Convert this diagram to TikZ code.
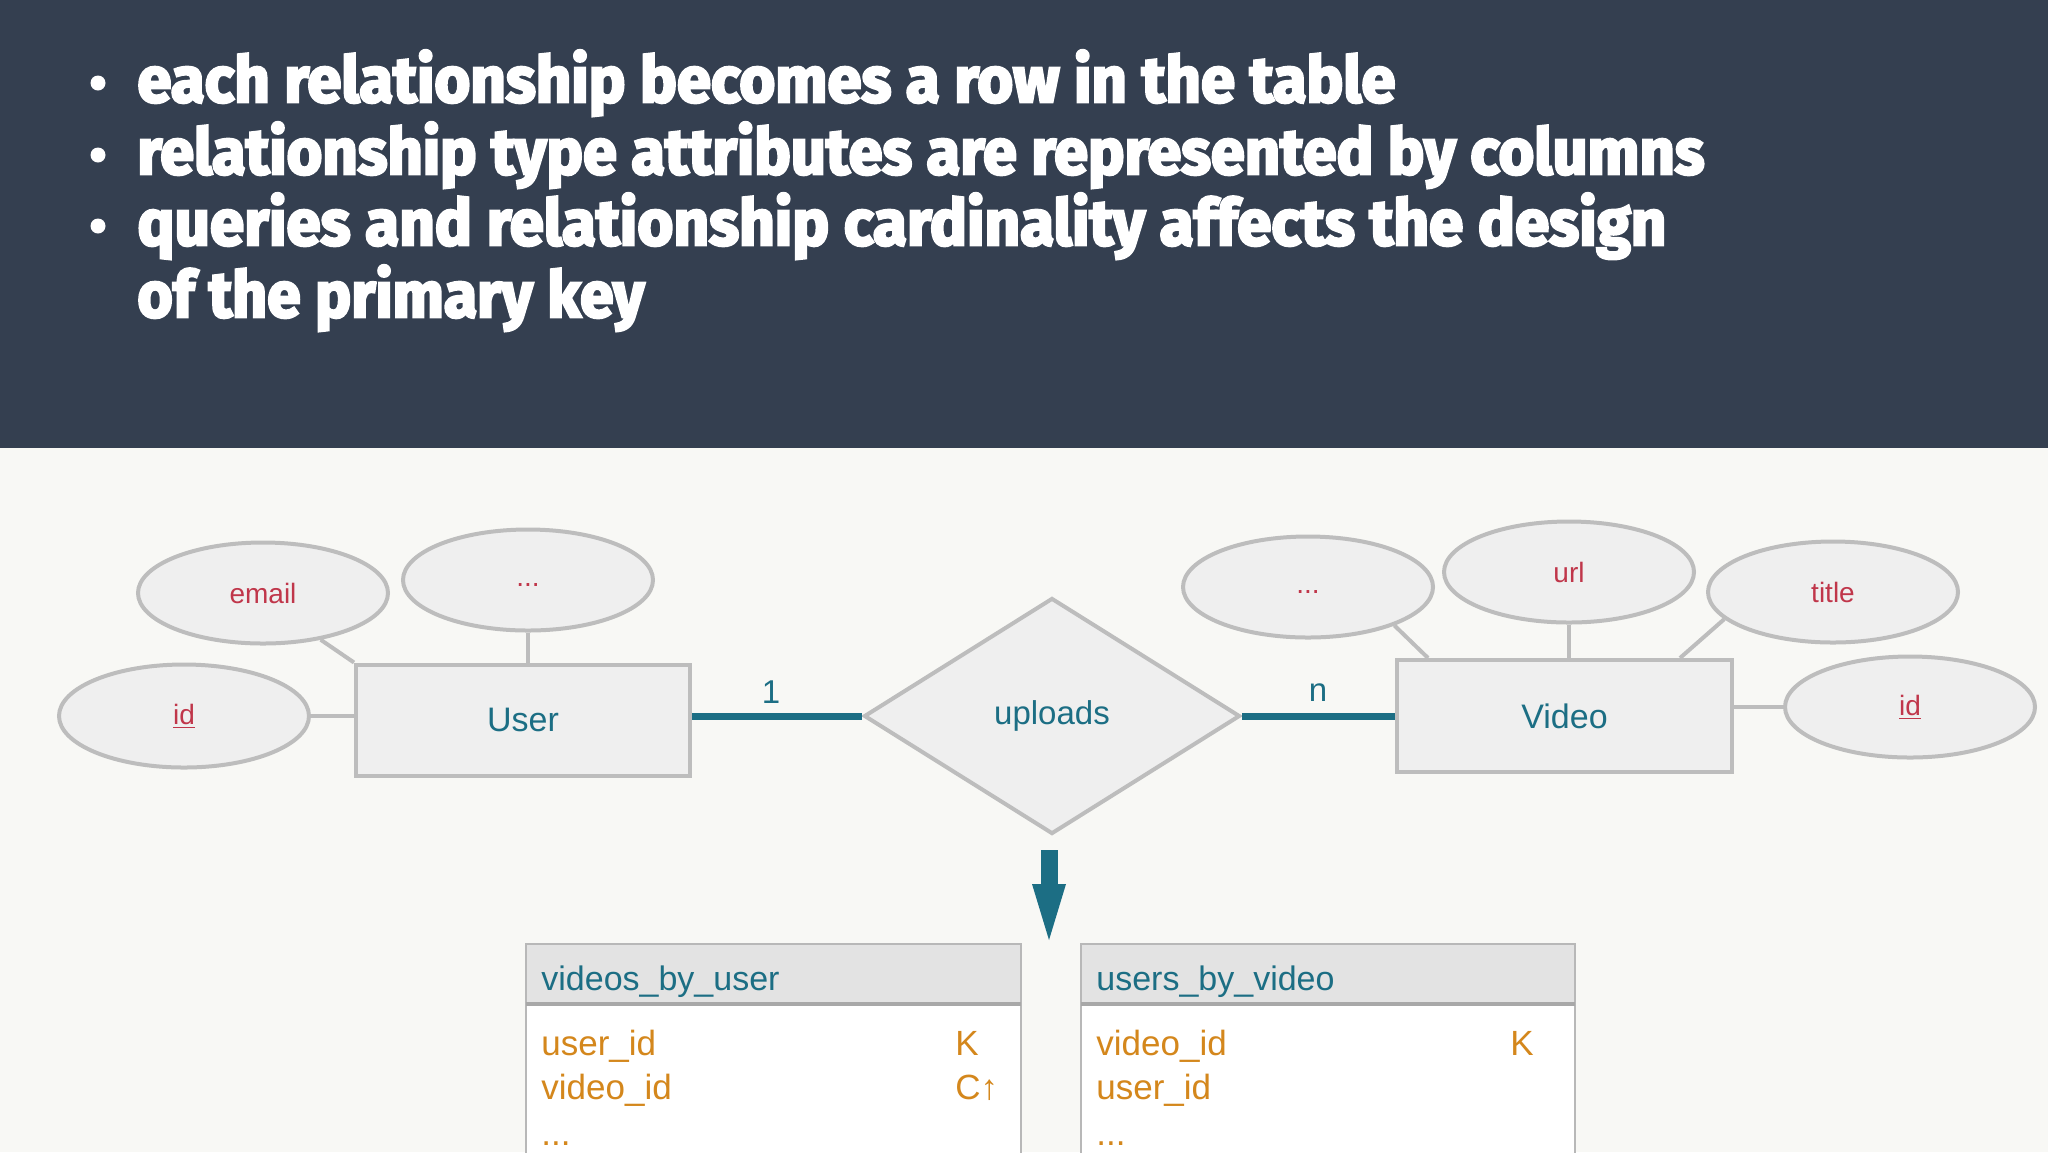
\documentclass[tikz,border=0pt]{standalone}
\usepackage{fontspec}
\setmainfont{Liberation Sans}
\newfontfamily\heavyfont[FakeBold=4]{Fira Sans}
\usetikzlibrary{shapes.geometric,calc}
\definecolor{hdrbg}{HTML}{343F50}
\definecolor{lowbg}{HTML}{F8F8F5}
\definecolor{erteal}{HTML}{1C6E84}
\definecolor{attrred}{HTML}{C0364A}
\definecolor{colorange}{HTML}{D4871C}
\definecolor{shapegray}{HTML}{BDBDBD}
\definecolor{shapefill}{HTML}{EFEFEF}
\definecolor{thfill}{HTML}{E3E3E3}
\definecolor{tborder}{HTML}{B8B8B8}
\definecolor{tsep}{HTML}{A8A8A8}
\newcommand\fitw[2]{\resizebox{#1}{\height}{#2}}
\newcommand\lowdots{\raisebox{-3pt}[0pt][0pt]{...}}
\tikzset{
  bullettext/.style={anchor=base west, inner sep=0pt, text=white, font=\heavyfont\bfseries\fontsize{32pt}{36pt}\selectfont},
  attr/.style={ellipse, draw=shapegray, fill=shapefill, line width=2pt, minimum width=125pt, minimum height=50.5pt, inner sep=0pt, text=attrred, font=\fontsize{14pt}{16pt}\selectfont},
  entity/.style={rectangle, draw=shapegray, fill=shapefill, line width=2pt, minimum width=167pt, minimum height=55.5pt, inner sep=0pt, text=erteal, font=\fontsize{17pt}{19pt}\selectfont},
  relship/.style={diamond, draw=shapegray, fill=shapefill, line width=2pt, minimum width=188pt, minimum height=118pt, aspect=1.59, inner sep=0pt, text=erteal, font=\fontsize{16.5pt}{19pt}\selectfont},
  attrline/.style={draw=shapegray, line width=2pt},
  relline/.style={draw=erteal, line width=3.5pt},
  card/.style={text=erteal, inner sep=0pt, font=\fontsize{16.5pt}{18pt}\selectfont},
  thead/.style={anchor=base west, inner sep=0pt, text=erteal, font=\fontsize{17pt}{19pt}\selectfont},
  trow/.style={anchor=base west, inner sep=0pt, text=colorange, font=\fontsize{17.5pt}{20pt}\selectfont},
  tbox/.style={draw=tborder, line width=1.2pt},
}
\begin{document}
\begin{tikzpicture}[x=0.5pt,y=-0.5pt]
\useasboundingbox (0,0) rectangle (2048,1152);
\clip (0,0) rectangle (2048,1152);
\fill[lowbg] (0,0) rectangle (2048,1152);
\fill[hdrbg] (0,0) rectangle (2048,448);

% bullets
\fill[white] (98,83) circle (7.5);
\fill[white] (98,155) circle (7.5);
\fill[white] (98,226) circle (7.5);
\node[bullettext] (b1) at (137,102) {\fitw{629pt}{each relationship becomes a row in the table}};
\node[bullettext] (b2) at (137,174) {\fitw{783.5pt}{relationship type attributes are represented by columns}};
\node[bullettext] (b3) at (137,245) {\fitw{764.5pt}{queries and relationship cardinality affects the design}};
\node[bullettext] (b4) at (137,317) {\fitw{253.5pt}{of the primary key}};

% ER diagram
\node[entity] (user) at (523,720) {User};
\node[entity, minimum width=167.5pt, minimum height=56pt] (video) at (1564.5,716) {Video};
\node[relship] (upl) at (1052,716) {uploads};

\node[attr] (email) at (263,593) {email};
\node[attr] (dotsL) at (528,580) {\lowdots};
\node[attr, minimum height=51.5pt] (idL) at (184,716) {\underline{id}};
\node[attr] (dotsR) at (1308,587) {\lowdots};
\node[attr] (url) at (1569,572) {url};
\node[attr] (title) at (1833,592) {title};
\node[attr] (idR) at (1910,707) {\underline{id}};

\draw[attrline] (email.-39) -- (user.north west);
\draw[attrline] (dotsL.south) -- (dotsL.south |- user.north);
\draw[attrline] (idL.east) -- (idL.east -| user.west);
\draw[attrline] (dotsR.-24) -- ([xshift=16.5pt]video.north west);
\draw[attrline] (url.south) -- (url.south |- video.north);
\draw[attrline] (title.-166) -- ([xshift=-27pt]video.north east);
\draw[attrline] (idR.west) -- (idR.west -| video.east);

\draw[relline] (upl.west -| user.east) -- (upl.west);
\draw[relline] (upl.east) -- (upl.east -| video.west);
\node[card] (c1) at (771,692) {1};
\node[card] (cn) at (1318,693) {n};

% arrow
\fill[erteal] (1040.5,850) rectangle (1057.5,886);
\fill[erteal] (1032,884) -- (1066,884) -- (1049,940) -- cycle;

% tables
\fill[white] (526,944) rectangle (1021,1170);
\fill[thfill] (526,944) rectangle (1021,1004);
\draw[tbox] (526,944) rectangle (1021,1170);
\draw[tbox, draw=tsep, line width=1.6pt] (526,1004) -- (1021,1004);
\node[thead] (t1h) at (541,990) {videos\_by\_user};
\node[trow] (t1r1) at (541,1055) {user\_id};
\node[trow] (t1r2) at (541,1099) {video\_id};
\node[trow] (t1r3) at (541,1145) {...};
\node[trow] (t1k1) at (955,1055) {K};
\node[trow] (t1k2) at (955,1099) {C↑};

\fill[white] (1081,944) rectangle (1575,1170);
\fill[thfill] (1081,944) rectangle (1575,1004);
\draw[tbox] (1081,944) rectangle (1575,1170);
\draw[tbox, draw=tsep, line width=1.6pt] (1081,1004) -- (1575,1004);
\node[thead] (t2h) at (1096,990) {users\_by\_video};
\node[trow] (t2r1) at (1096,1055) {video\_id};
\node[trow] (t2r2) at (1096,1099) {user\_id};
\node[trow] (t2r3) at (1096,1145) {...};
\node[trow] (t2k1) at (1510,1055) {K};
\end{tikzpicture}
\end{document}
